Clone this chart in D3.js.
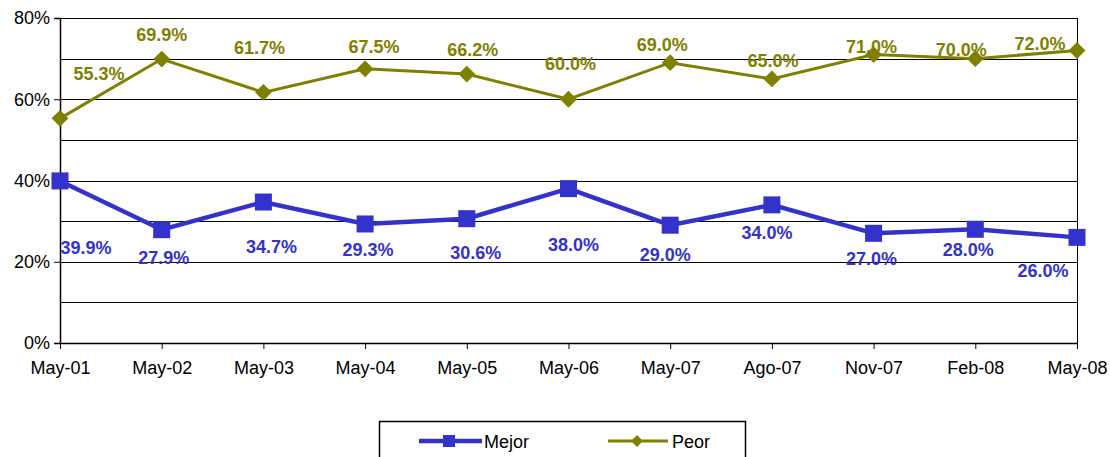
<!DOCTYPE html>
<html>
<head>
<meta charset="utf-8">
<script src="https://cdn.jsdelivr.net/npm/d3@7"></script>
<style>
  body { margin: 0; background: #fff; }
  text { font-family: "Liberation Sans", Arial, sans-serif; }
</style>
</head>
<body>
<div id="chart"></div>
<script>
const categories = ["May-01", "May-02", "May-03", "May-04", "May-05", "May-06", "May-07", "Ago-07", "Nov-07", "Feb-08", "May-08"];
const mejor = [39.9, 27.9, 34.7, 29.3, 30.6, 38.0, 29.0, 34.0, 27.0, 28.0, 26.0];
const peor = [55.3, 69.9, 61.7, 67.5, 66.2, 60.0, 69.0, 65.0, 71.0, 70.0, 72.0];
const yTicks = [0, 20, 40, 60, 80];
const gridValues = [10, 20, 30, 40, 50, 60, 70, 80];

// label nudges (pixels) from each point, as placed in the original
const mejorLabelShift = [[26, 73], [2, 34], [8, 51], [3, 32], [9, 40], [5, 62], [-5, 36], [-5, 34], [-2, 32], [-7, 27], [-34, 40]];
const peorLabelShift = [[39, -38], [0, -18], [-4, -38], [9, -16], [6, -18], [2, -29], [-8, -12], [1, -12], [-2, -2], [-14, -3], [-37, -1]];

const width = 1110;
const height = 457;
const margin = {top: 18, bottom: 114, left: 60, right: 33};

const blue = "#3333cc";
const olive = "#808000";

const x = d3.scalePoint()
    .domain(categories)
    .range([margin.left, width - margin.right]);

const y = d3.scaleLinear()
    .domain([0, 80])
    .range([height - margin.bottom, margin.top]);

const svg = d3.select('#chart')
    .append('svg')
    .attr('width', width)
    .attr('height', height);

// gridlines
svg.append('g')
    .selectAll('line')
    .data(gridValues)
    .enter()
    .append('line')
    .attr('x1', margin.left)
    .attr('x2', width - margin.right)
    .attr('y1', d => Math.round(y(d)) + 0.5)
    .attr('y2', d => Math.round(y(d)) + 0.5)
    .attr('stroke', '#000')
    .attr('stroke-width', 1);

// right border
svg.append('line')
    .attr('x1', width - margin.right + 0.5)
    .attr('x2', width - margin.right + 0.5)
    .attr('y1', margin.top)
    .attr('y2', y(0))
    .attr('stroke', '#000');

// y axis
const yAxis = svg.append('g')
    .attr('transform', `translate(${margin.left},0)`)
    .call(d3.axisLeft(y).tickValues(yTicks).tickSize(6).tickPadding(4).tickFormat(d => d + '%'));
yAxis.select('.domain').attr('stroke-width', 1.5);
yAxis.selectAll('text').attr('font-size', 18).attr('fill', '#000').style('font-family', '"Liberation Sans", Arial, sans-serif');

// x axis
const xAxis = svg.append('g')
    .attr('transform', `translate(0,${y(0)})`)
    .call(d3.axisBottom(x).tickSize(6).tickPadding(12).tickSizeOuter(0));
xAxis.select('.domain').attr('stroke-width', 1.5);
xAxis.selectAll('text').attr('font-size', 18).attr('fill', '#000').style('font-family', '"Liberation Sans", Arial, sans-serif');

// lines
const line = d3.line()
    .x((d, i) => x(categories[i]))
    .y(d => y(d));

svg.append('path')
    .datum(peor)
    .attr('d', line)
    .attr('fill', 'none')
    .attr('stroke', olive)
    .attr('stroke-width', 3);

svg.append('path')
    .datum(mejor)
    .attr('d', line)
    .attr('fill', 'none')
    .attr('stroke', blue)
    .attr('stroke-width', 4.5);

// markers
svg.selectAll('.peor-pt')
    .data(peor)
    .enter()
    .append('path')
    .attr('class', 'peor-pt')
    .attr('d', d3.symbol().type(d3.symbolDiamond2).size(180))
    .attr('transform', (d, i) => `translate(${x(categories[i])},${y(d)})`)
    .attr('fill', olive);

svg.selectAll('.mejor-pt')
    .data(mejor)
    .enter()
    .append('rect')
    .attr('class', 'mejor-pt')
    .attr('x', (d, i) => x(categories[i]) - 8.5)
    .attr('y', d => y(d) - 8.5)
    .attr('width', 17)
    .attr('height', 17)
    .attr('fill', blue);

// data labels
svg.selectAll('.peor-lbl')
    .data(peor)
    .enter()
    .append('text')
    .attr('class', 'peor-lbl')
    .attr('x', (d, i) => x(categories[i]) + peorLabelShift[i][0])
    .attr('y', (d, i) => y(d) + peorLabelShift[i][1])
    .attr('text-anchor', 'middle')
    .attr('font-size', 18)
    .attr('font-weight', 'bold')
    .attr('fill', olive)
    .text(d => d.toFixed(1) + '%');

svg.selectAll('.mejor-lbl')
    .data(mejor)
    .enter()
    .append('text')
    .attr('class', 'mejor-lbl')
    .attr('x', (d, i) => x(categories[i]) + mejorLabelShift[i][0])
    .attr('y', (d, i) => y(d) + mejorLabelShift[i][1])
    .attr('text-anchor', 'middle')
    .attr('font-size', 18)
    .attr('font-weight', 'bold')
    .attr('fill', blue)
    .text(d => d.toFixed(1) + '%');

// legend
const legend = svg.append('g');
legend.append('rect')
    .attr('x', 379.5)
    .attr('y', 421.5)
    .attr('width', 366)
    .attr('height', 50)
    .attr('fill', '#fff')
    .attr('stroke', '#000')
    .attr('stroke-width', 1.5);

legend.append('line')
    .attr('x1', 419).attr('x2', 482)
    .attr('y1', 441).attr('y2', 441)
    .attr('stroke', blue).attr('stroke-width', 4.5);
legend.append('rect')
    .attr('x', 443).attr('y', 435)
    .attr('width', 12).attr('height', 12)
    .attr('fill', blue);
legend.append('text')
    .attr('x', 484).attr('y', 447.5)
    .attr('font-size', 18)
    .text('Mejor');

legend.append('line')
    .attr('x1', 608).attr('x2', 668)
    .attr('y1', 441).attr('y2', 441)
    .attr('stroke', olive).attr('stroke-width', 3);
legend.append('path')
    .attr('d', d3.symbol().type(d3.symbolDiamond2).size(90))
    .attr('transform', 'translate(637,441)')
    .attr('fill', olive);
legend.append('text')
    .attr('x', 672).attr('y', 447.5)
    .attr('font-size', 18)
    .text('Peor');
</script>
</body>
</html>
